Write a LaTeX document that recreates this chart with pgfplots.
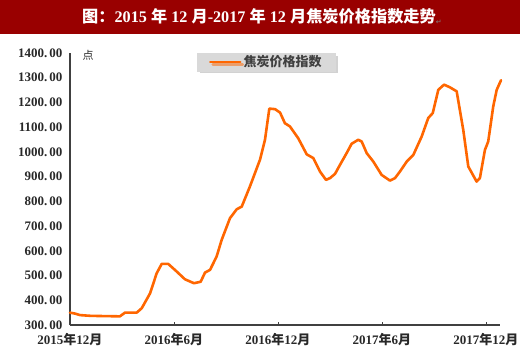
\documentclass[border=0pt]{standalone}
\usepackage{pgfplots}
\pgfplotsset{compat=1.18}
\usepackage{pgfplotstable}
\usepackage{fontspec}
\setmainfont{Liberation Serif}
\newfontfamily\cjk{Noto Sans CJK SC}
\newfontfamily\dejavu{DejaVu Sans}
\usetikzlibrary{shadows}
\definecolor{titlered}{RGB}{153,0,0}
\definecolor{lineor}{RGB}{255,102,0}
\definecolor{axgray}{RGB}{64,64,64}
\definecolor{txt}{RGB}{40,40,40}
\definecolor{legfill}{RGB}{217,217,217}

\pgfplotstableread{
m v
0 350
0.3 346
0.58 340
1.2 337
2.0 336
2.88 335
3.17 350
3.85 350
4.14 368
4.62 428
5.0 509
5.29 547
5.67 547
6.16 516
6.63 485
7.15 469
7.54 475
7.79 512
8.08 523
8.46 577
8.75 644
9.23 732
9.62 768
9.91 779
10.38 860
10.96 968
11.25 1049
11.5 1175
11.83 1173
12.12 1159
12.40 1116
12.69 1103
13.17 1055
13.66 990
14.04 975
14.42 921
14.77 887
15.0 894
15.29 911
15.58 948
15.96 995
16.25 1033
16.63 1049
16.83 1042
17.12 995
17.50 961
17.98 907
18.46 884
18.75 894
19.04 921
19.43 961
19.81 988
20.29 1062
20.67 1137
20.93 1157
21.25 1251
21.58 1272
21.9 1262
22.31 1245
22.69 1089
22.98 941
23.46 880
23.65 894
23.94 1008
24.13 1042
24.42 1184
24.62 1251
24.87 1290
}\coke

\begin{document}
\begin{tikzpicture}
\path[use as bounding box] (0pt,0pt) rectangle (520pt,354pt);
\fill[titlered] (0pt,320pt) rectangle (520pt,354pt);
\node[text=white,font=\bfseries\fontsize{16.2}{18}\selectfont,anchor=west,inner sep=0pt] at (82pt,337pt)
  {{\cjk 图：}2015 {\cjk 年} 12 {\cjk 月}-2017 {\cjk 年} 12 {\cjk 月焦炭价格指数走势}\raisebox{-2pt}{\textcolor{gray}{\dejavu\mdseries\fontsize{7}{8}\selectfont ↵}}};
\begin{axis}[
  at={(70pt,29pt)}, anchor=south west,
  scale only axis, width=430pt, height=272pt,
  xmin=0, xmax=24.81, ymin=300, ymax=1400,
  axis x line*=bottom, axis y line*=left,
  axis line style={axgray, line width=1.3pt, -},
  xtick={0,6,12,18,24},
  xticklabels={2015{\cjk 年}12{\cjk 月},2016{\cjk 年}6{\cjk 月},2016{\cjk 年}12{\cjk 月},2017{\cjk 年}6{\cjk 月},2017{\cjk 年}12{\cjk 月}},
  x tick label style={font=\fontsize{13}{15}\selectfont\bfseries, text=txt, yshift=-5pt},
  ytick={300,400,...,1400},
  yticklabels={300.\,00,400.\,00,500.\,00,600.\,00,700.\,00,800.\,00,900.\,00,1000.\,00,1100.\,00,1200.\,00,1300.\,00,1400.\,00},
  y tick label style={font=\fontsize{13}{15}\selectfont\bfseries, text=txt},
  yticklabel style={xshift=-4pt},
  major tick length=3pt,
  xtick style={axgray, line width=0.9pt},
  ytick style={draw=none},
  tick align=inside,
  legend style={at={(0.295,1.0)}, anchor=north west, fill=legfill, draw=legfill,
    drop shadow={shadow xshift=2.5pt, shadow yshift=-2.5pt, fill=gray!70},
    font=\cjk\bfseries\fontsize{13}{15}\selectfont, text=axgray,
    inner xsep=12pt, inner ysep=0.5pt},
  legend image code/.code={\draw[#1, line width=2.5pt] (0pt,0pt) -- (30pt,0pt);},
  legend cell align=left,
  clip=false,
]
\addplot[lineor, line width=2.6pt, line join=round, line cap=round] table[x=m,y=v] {\coke};
\addlegendentry{焦炭价格指数}
\node[font=\cjk\fontsize{11}{12}\selectfont, text=txt, anchor=center] at (axis cs:1.05,1390) {点};
\end{axis}
\end{tikzpicture}
\end{document}
